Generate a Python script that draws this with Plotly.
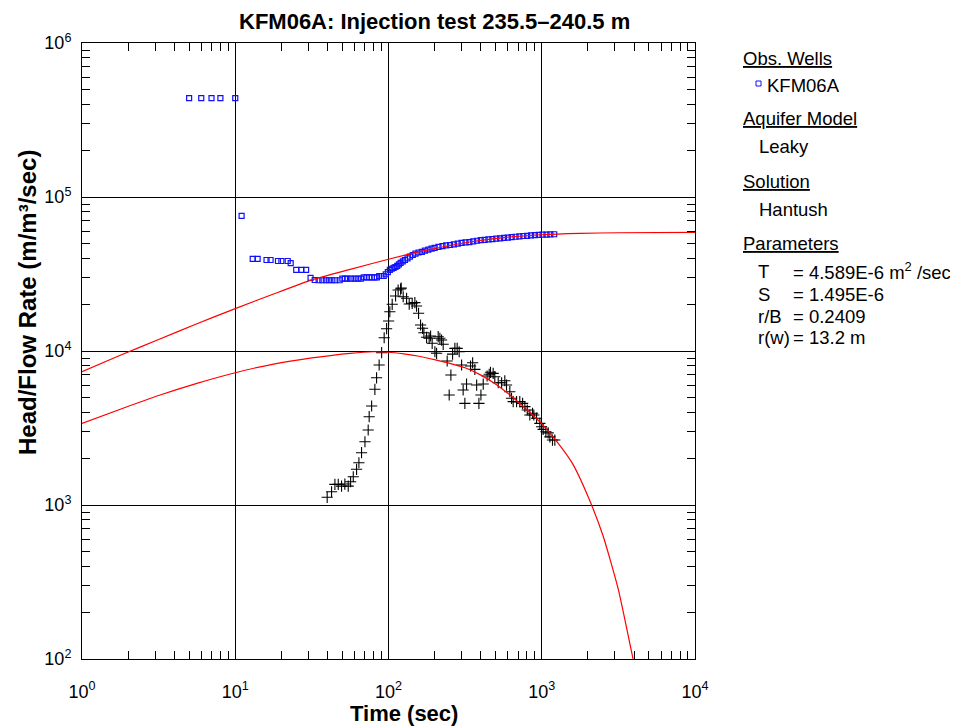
import plotly.graph_objects as go

# ---------------- data ----------------
# Observation well KFM06A: head / flow rate (blue squares)
obs_time = [5, 6, 7, 8, 10, 11, 13, 14, 16, 17, 19, 20, 22, 23, 25, 27, 29, 31,
            33, 35, 37, 39, 41, 43, 45, 48, 50, 52, 54, 57, 60, 63, 66,
            69, 72, 75, 78, 81, 84, 87, 90, 93,
            96, 99, 102, 105, 108, 111, 114, 117, 120, 124,
            128, 133, 138, 144, 150, 157, 165, 173, 182, 191,
            200, 212, 225, 238, 252, 267, 283, 300, 318, 337,
            357, 378, 400, 424, 449, 476, 505, 535, 567, 601,
            637, 675, 715, 758, 803, 851, 902, 956, 1013, 1074,
            1138, 1206]
obs_value = [4.39e5, 4.39e5, 4.39e5, 4.39e5, 4.39e5, 7.53e4,
             3.96e4, 3.96e4, 3.90e4, 3.90e4, 3.84e4, 3.84e4, 3.84e4, 3.72e4,
             3.36e4, 3.36e4, 3.36e4, 2.98e4,
             2.89e4, 2.88e4, 2.88e4, 2.88e4, 2.88e4, 2.88e4, 2.88e4, 2.88e4,
             2.95e4, 2.95e4, 2.95e4, 2.95e4, 2.95e4, 2.95e4, 2.95e4,
             3.01e4, 3.01e4, 3.01e4, 3.01e4, 3.01e4, 3.01e4,
             3.07e4, 3.07e4, 3.07e4,
             3.15e4, 3.25e4, 3.36e4, 3.42e4, 3.47e4, 3.51e4, 3.57e4, 3.65e4, 3.73e4, 3.82e4,
             3.90e4, 4.00e4, 4.10e4, 4.20e4, 4.29e4, 4.36e4, 4.40e4, 4.48e4, 4.55e4, 4.62e4,
             4.67e4, 4.74e4, 4.80e4, 4.85e4, 4.88e4, 4.93e4, 4.98e4, 5.03e4, 5.07e4, 5.10e4,
             5.15e4, 5.20e4, 5.24e4, 5.27e4, 5.30e4, 5.33e4, 5.37e4, 5.39e4, 5.42e4, 5.45e4,
             5.49e4, 5.52e4, 5.55e4, 5.58e4, 5.60e4, 5.63e4, 5.65e4, 5.67e4, 5.69e4, 5.70e4,
             5.72e4, 5.73e4]

# Derivative of the observation data (black crosses)
deriv_time = [39.8, 42.5, 44.7, 47.0, 49.4, 51.9, 54.6, 56.6, 58.9, 61.9,
              64.1, 66.7, 70.2, 73.7, 74.8, 77.6, 81.5, 83.6, 86.9, 90.2,
              93.7, 97.2, 100.2, 102, 105.7, 111.2, 115.6, 119.9, 121, 124.7,
              131.2, 136.5, 142.8, 148.6, 152.4, 157.1, 161.9, 166.8, 170.2, 177.2,
              184.2, 188.2, 192.7, 200.8, 206, 211, 216.4, 222, 227.4, 241.5,
              248.9, 255.3, 261.9, 271.1, 280.6, 289.2, 300, 307, 315, 323,
              343, 354, 366, 376, 389, 401, 415, 440, 454, 463,
              482, 494, 520, 547, 574, 589, 619, 635, 651, 685,
              719, 750, 776, 804, 836, 871, 888, 925, 972, 997,
              1021, 1064, 1101, 1130, 1175, 1217]
deriv_value = [1122, 1219, 1362, 1362, 1327, 1368, 1327, 1416, 1526, 1706,
               1881, 2185, 2575, 3069, 3744, 4394, 5640, 6700, 8110, 9750,
               12190, 13960, 15660, 17990, 20100, 22750, 24890, 25250, 25600, 22500,
               21990, 20180, 20400, 20600, 19590, 17570, 14750, 14040, 13140, 12270,
               12090, 12510, 11220, 9890, 9660, 12380, 12090, 11780, 11050, 8610,
               5180, 6980, 9550, 10400, 10400, 9890, 8110, 5580, 4570, 6100,
               7990, 8390, 7600, 6010, 4570, 5180, 6100, 6880, 7060, 7270,
               7160, 6810, 6220, 6220, 6410, 6010, 5440, 4930, 4690, 4690,
               4690, 4570, 4350, 4140, 3840, 3940, 3840, 3660, 3390, 3220,
               3100, 2990, 2940, 2770, 2640, 2640]

# Hantush type curve (upper red line)
fit_time = [1, 1.778, 3.162, 5.623, 10, 17.78, 31.62, 56.23, 100, 177.8, 316.2,
            562.3, 1000, 1778, 3162, 10000]
fit_value = [7345, 9376, 11885, 15031, 18836, 23442, 28973, 33884, 39446, 45186,
             50466, 54450, 56885, 58076, 58614, 58884]

# Hantush derivative curve (lower red line)
fitd_time = [1, 1.778, 3.162, 5.623, 10, 17.78, 31.62, 56.23, 79.43, 100, 125.9,
             158.5, 199.5, 251.2, 316.2, 398.1, 501.2, 631.0, 794.3, 1000, 1259,
             1585, 1995, 2512, 3162, 3981, 4467]
fitd_value = [3388, 4188, 5140, 6166, 7228, 8222, 9016, 9661, 9886, 9817, 9572,
              9247, 8790, 8318, 7780, 6998, 6081, 5105, 4188, 3365, 2570,
              1862, 1148, 631, 282, 95.5, 56.2]

# Axis tick labels
x_tickvals = [1, 10, 100, 1000, 10000]
x_ticktext = ["10<sup>0</sup>", "10<sup>1</sup>", "10<sup>2</sup>", "10<sup>3</sup>", "10<sup>4</sup>"]
y_tickvals = [100, 1000, 10000, 100000, 1000000]
y_ticktext = ["10<sup>2</sup>", "10<sup>3</sup>", "10<sup>4</sup>", "10<sup>5</sup>", "10<sup>6</sup>"]

# Legend / parameter panel text
param_names = ["T", "S", "r/B", "r(w)"]
param_values = ["= 4.589E-6 m<sup>2</sup> /sec", "= 1.495E-6", "= 0.2409", "= 13.2 m"]

# ---------------- layout helpers ----------------
# The page has an 8 px body margin, so the figure is 8 px smaller than the window.
OFF = 8
W, H = 958 - OFF, 727 - OFF
L, R, T, B = 82, 695, 43, 659          # plot area in window pixels


def px_x(px):
    return (px - L) / (R - L)


def px_y(py):
    return (B - py) / (B - T)


FONT = "Liberation Sans, Arial, sans-serif"

fig = go.Figure()

fig.add_trace(go.Scatter(
    x=obs_time, y=obs_value, mode="markers",
    marker=dict(symbol="square-open", size=5, color="#1010ff",
                line=dict(width=1.2, color="#1010ff")),
    showlegend=False, hoverinfo="x+y"))

fig.add_trace(go.Scatter(
    x=deriv_time, y=deriv_value, mode="markers",
    marker=dict(symbol="cross-thin-open", size=8, color="black",
                line=dict(width=1.1, color="black")),
    showlegend=False, hoverinfo="x+y"))

fig.add_trace(go.Scatter(
    x=fit_time, y=fit_value, mode="lines",
    line=dict(color="red", width=1.2, shape="spline", smoothing=0.5),
    showlegend=False, hoverinfo="skip"))

fig.add_trace(go.Scatter(
    x=fitd_time, y=fitd_value, mode="lines",
    line=dict(color="red", width=1.2, shape="spline", smoothing=0.5),
    showlegend=False, hoverinfo="skip"))

minor_x = [k * 10 ** d for d in range(0, 4) for k in range(2, 10)]
minor_y = [k * 10 ** d for d in range(2, 6) for k in range(2, 10)]

axis_common = dict(
    type="log", showgrid=True, gridcolor="black", gridwidth=1,
    showline=True, linecolor="black", linewidth=1, mirror="allticks",
    ticks="", zeroline=False, tickmode="array",
    tickfont=dict(family=FONT, size=18, color="black"),
)

fig.update_xaxes(**axis_common, range=[0, 4], tickvals=x_tickvals, ticktext=x_ticktext,
                 ticklabelstandoff=16,
                 minor=dict(tickmode="array", tickvals=minor_x, ticks="inside",
                            ticklen=8, tickcolor="black", tickwidth=1, showgrid=False))
fig.update_yaxes(**axis_common, range=[2, 6], tickvals=y_tickvals, ticktext=y_ticktext,
                 ticklabelstandoff=6,
                 minor=dict(tickmode="array", tickvals=minor_y, ticks="inside",
                            ticklen=8, tickcolor="black", tickwidth=1, showgrid=False))

annotations = []

# Title
annotations.append(dict(
    text="<b>KFM06A: Injection test 235.5–240.5 m</b>", xref="paper", yref="paper",
    x=px_x(434.5), y=px_y(22), xanchor="center", yanchor="middle", showarrow=False,
    font=dict(family=FONT, size=22, color="black")))
# Axis titles
annotations.append(dict(
    text="<b>Time (sec)</b>", xref="paper", yref="paper",
    x=px_x(404), y=px_y(714), xanchor="center", yanchor="middle", showarrow=False,
    font=dict(family=FONT, size=22, color="black")))
annotations.append(dict(
    text="<b>Head/Flow Rate (m/m³/sec)</b>", xref="paper", yref="paper",
    x=px_x(27), y=px_y(303), xanchor="center", yanchor="middle", showarrow=False,
    textangle=-90, font=dict(family=FONT, size=24, color="black")))

PFS = 18.5
panel = [
    ("<u>Obs. Wells</u>", 741, 58.5),
    ("KFM06A", 765, 85.5),
    ("<u>Aquifer Model</u>", 741, 119),
    ("Leaky", 757, 146.5),
    ("<u>Solution</u>", 741, 181.5),
    ("Hantush", 757, 209.5),
    ("<u>Parameters</u>", 741, 243.5),
]
for txt, x, y in panel:
    annotations.append(dict(
        text=txt, xref="paper", yref="paper", x=px_x(x), y=px_y(y),
        xanchor="left", yanchor="middle", showarrow=False,
        font=dict(family=FONT, size=PFS, color="black")))

param_rows_y = [271, 294.5, 316, 337]
for name, val, y in zip(param_names, param_values, param_rows_y):
    annotations.append(dict(
        text=name, xref="paper", yref="paper", x=px_x(756), y=px_y(y),
        xanchor="left", yanchor="middle", showarrow=False,
        font=dict(family=FONT, size=PFS, color="black")))
    annotations.append(dict(
        text=val, xref="paper", yref="paper", x=px_x(791), y=px_y(y),
        xanchor="left", yanchor="middle", showarrow=False,
        font=dict(family=FONT, size=PFS, color="black")))

fig.update_layout(
    width=W, height=H,
    margin=dict(l=L - OFF, r=W - (R - OFF), t=T - OFF, b=H - (B - OFF), pad=0),
    paper_bgcolor="white", plot_bgcolor="white",
    showlegend=False,
    annotations=annotations,
    shapes=[dict(type="rect", xref="paper", yref="paper",
                 x0=px_x(756), x1=px_x(761), y0=px_y(86), y1=px_y(81),
                 line=dict(color="#1010ff", width=1), fillcolor="white")],
)

fig.write_html("out.html")
